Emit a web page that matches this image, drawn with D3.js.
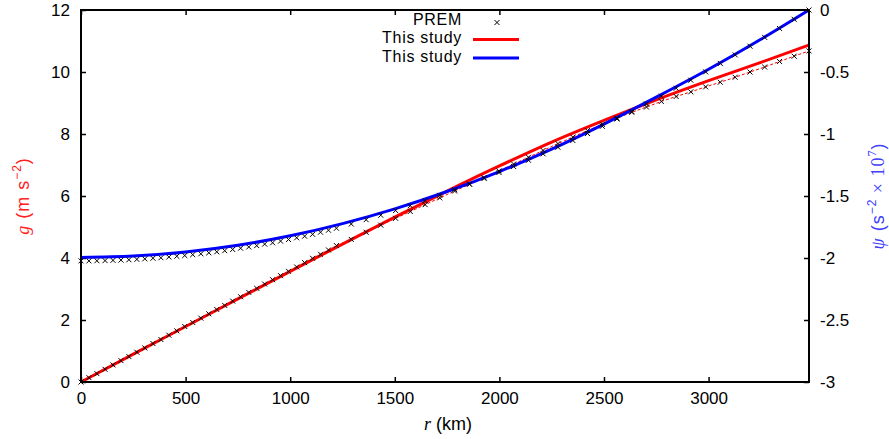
<!DOCTYPE html>
<html>
<head>
<meta charset="utf-8">
<script src="https://cdn.jsdelivr.net/npm/d3@7"></script>
<style>
body { margin: 0; background: #fff; }
svg { font-family: "Liberation Sans", Arial, Helvetica, sans-serif; }
.tick text { font-size: 17px; fill: #000; }
.tick line { stroke: #000; stroke-width: 1.5; }
.serif { font-family: "Liberation Serif", "DejaVu Serif", serif; }
</style>
</head>
<body>
<svg id="chart"></svg>
<script>
// r (km) for the curves of this study
var radiusKm = [0, 250, 500, 750, 1000, 1250, 1500, 1750, 2000, 2250, 2500, 2750, 3000, 3250, 3480];
// g (m s^-2), this study
var gStudy = [0, 0.90, 1.79, 2.68, 3.57, 4.45, 5.32, 6.16, 6.97, 7.74, 8.44, 9.10, 9.72, 10.31, 10.87];
// psi (s^-2 x 10^7), this study
var psiStudy = [-1.995, -1.984, -1.951, -1.897, -1.821, -1.723, -1.604, -1.464, -1.303, -1.122, -0.920, -0.703, -0.478, -0.236, 0];

// PREM samples
var premRadius = [0, 38, 76, 115, 153, 191, 229, 267, 305, 344, 382, 420, 458, 496, 534, 573, 611, 649, 687, 725,
  763, 802, 840, 878, 916, 954, 992, 1031, 1069, 1107, 1145, 1183, 1221,
  1292, 1363, 1433, 1504, 1574, 1645, 1715, 1786, 1857, 1927, 1998, 2068, 2139, 2209, 2280, 2351, 2421, 2492,
  2562, 2633, 2703, 2774, 2845, 2915, 2986, 3056, 3127, 3198, 3268, 3339, 3409, 3480];
var premG = [0, 0.14, 0.27, 0.41, 0.55, 0.69, 0.82, 0.96, 1.10, 1.24, 1.37, 1.51, 1.65, 1.79, 1.92, 2.06, 2.20, 2.34, 2.47, 2.61,
  2.75, 2.89, 3.02, 3.16, 3.30, 3.43, 3.57, 3.71, 3.85, 3.99, 4.12, 4.26, 4.40,
  4.60, 4.83, 5.06, 5.28, 5.50, 5.72, 5.94, 6.16, 6.38, 6.59, 6.81, 7.03, 7.25, 7.47, 7.69, 7.90, 8.11, 8.31,
  8.51, 8.70, 8.87, 9.05, 9.21, 9.36, 9.52, 9.67, 9.83, 10.00, 10.16, 10.34, 10.51, 10.68];
var premPsi = [-2.023, -2.023, -2.022, -2.021, -2.019, -2.017, -2.014, -2.011, -2.007, -2.002, -1.998, -1.992, -1.986, -1.980, -1.973, -1.966, -1.958, -1.950, -1.941, -1.931,
  -1.921, -1.911, -1.900, -1.888, -1.877, -1.864, -1.851, -1.837, -1.824, -1.809, -1.792, -1.776, -1.760,
  -1.726, -1.691, -1.655, -1.617, -1.578, -1.537, -1.494, -1.449, -1.404, -1.358, -1.310, -1.262, -1.212, -1.160, -1.107, -1.052, -0.996, -0.938,
  -0.879, -0.819, -0.757, -0.695, -0.631, -0.566, -0.499, -0.431, -0.362, -0.292, -0.221, -0.149, -0.075, 0];

var xTicks = [0, 500, 1000, 1500, 2000, 2500, 3000];
var gTicks = [0, 2, 4, 6, 8, 10, 12];
var psiTicks = [-3, -2.5, -2, -1.5, -1, -0.5, 0];

var screen = {width: 889, height: 439};
var margins = {left: 81, right: 80, top: 10, bottom: 57};
var graph = {
  width: screen.width - margins.left - margins.right,
  height: screen.height - margins.top - margins.bottom
};

var svg = d3.select("#chart")
  .attr("width", screen.width)
  .attr("height", screen.height);

var target = svg.append("g")
  .attr("transform", "translate(" + margins.left + "," + margins.top + ")");

var xScale = d3.scaleLinear().domain([0, 3480]).range([0, graph.width]);
var gScale = d3.scaleLinear().domain([0, 12]).range([graph.height, 0]);
var psiScale = d3.scaleLinear().domain([-3, 0]).range([graph.height, 0]);

// axes, gnuplot style ticks pointing inwards
var fmt = function(d) { return String(d); };
target.append("g")
  .attr("transform", "translate(0," + graph.height + ")")
  .call(d3.axisBottom(xScale).tickValues(xTicks).tickFormat(fmt).tickSizeInner(-5).tickSizeOuter(0).tickPadding(10));
target.append("g")
  .call(d3.axisTop(xScale).tickValues(xTicks).tickFormat("").tickSizeInner(-5).tickSizeOuter(0));
target.append("g")
  .call(d3.axisLeft(gScale).tickValues(gTicks).tickFormat(fmt).tickSizeInner(-5).tickSizeOuter(0).tickPadding(11));
target.append("g")
  .attr("transform", "translate(" + graph.width + ",0)")
  .call(d3.axisRight(psiScale).tickValues(psiTicks).tickFormat(fmt).tickSizeInner(-5).tickSizeOuter(0).tickPadding(11));
target.selectAll(".domain").remove();

// PREM g dashed guide
var premGPts = premRadius.map(function(r, i) { return [r, premG[i]]; });
var premPsiPts = premRadius.map(function(r, i) { return [r, premPsi[i]]; });

target.append("path")
  .datum(premGPts)
  .attr("fill", "none")
  .attr("stroke", "#ff0000")
  .attr("stroke-width", 1)
  .attr("stroke-dasharray", "3,2")
  .attr("d", d3.line().x(function(d) { return xScale(d[0]); }).y(function(d) { return gScale(d[1]); }));

// study curves
var gPts = radiusKm.map(function(r, i) { return [r, gStudy[i]]; });
var psiPts = radiusKm.map(function(r, i) { return [r, psiStudy[i]]; });

target.append("path")
  .datum(gPts)
  .attr("fill", "none")
  .attr("stroke", "#ff0000")
  .attr("stroke-width", 3)
  .attr("d", d3.line().curve(d3.curveMonotoneX)
    .x(function(d) { return xScale(d[0]); }).y(function(d) { return gScale(d[1]); }));

target.append("path")
  .datum(psiPts)
  .attr("fill", "none")
  .attr("stroke", "#0000ff")
  .attr("stroke-width", 3)
  .attr("d", d3.line().curve(d3.curveMonotoneX)
    .x(function(d) { return xScale(d[0]); }).y(function(d) { return psiScale(d[1]); }));

// PREM crosses
var crossPath = "M-2.5,-2.5L2.5,2.5M-2.5,2.5L2.5,-2.5";
var drawCrosses = function(pts, yScale) {
  target.append("g").selectAll("path")
    .data(pts)
    .enter()
    .append("path")
    .attr("d", crossPath)
    .attr("stroke", "#000")
    .attr("stroke-width", 1)
    .attr("transform", function(d) { return "translate(" + xScale(d[0]) + "," + yScale(d[1]) + ")"; });
};
drawCrosses(premGPts, gScale);
drawCrosses(premPsiPts, psiScale);

// frame
target.append("rect")
  .attr("width", graph.width)
  .attr("height", graph.height)
  .attr("fill", "none")
  .attr("stroke", "#000")
  .attr("stroke-width", 2);

// legend
var legend = svg.append("g").attr("font-size", 16).attr("letter-spacing", 0.7);
var entries = [
  {name: "PREM", y: 19},
  {name: "This study", y: 37.5, color: "#ff0000"},
  {name: "This study", y: 56, color: "#0000ff"}
];
entries.forEach(function(e) {
  legend.append("text")
    .attr("x", 462).attr("y", e.y)
    .attr("text-anchor", "end")
    .attr("dominant-baseline", "central")
    .text(e.name);
  if (e.color) {
    legend.append("line")
      .attr("x1", 473).attr("x2", 519)
      .attr("y1", e.y + 2).attr("y2", e.y + 2)
      .attr("stroke", e.color).attr("stroke-width", 3);
  } else {
    legend.append("path")
      .attr("d", crossPath)
      .attr("stroke", "#000")
      .attr("transform", "translate(497," + (e.y + 3.5) + ")");
  }
});

// axis labels
var xLabel = svg.append("text")
  .attr("x", margins.left + graph.width / 2 + 3)
  .attr("y", 430)
  .attr("text-anchor", "middle")
  .attr("font-size", 18);
xLabel.append("tspan").attr("class", "serif").attr("font-style", "italic").text("r");
xLabel.append("tspan").text(" (km)");

var gLabel = svg.append("text")
  .attr("transform", "translate(29,196) rotate(-90)")
  .attr("text-anchor", "middle")
  .attr("font-size", 18)
  .attr("letter-spacing", 1)
  .attr("fill", "#ff2020");
gLabel.append("tspan").attr("class", "serif").attr("font-style", "italic").text("g");
gLabel.append("tspan").text(" (m s");
gLabel.append("tspan").attr("font-size", 12).attr("dy", -8).text("\u22122");
gLabel.append("tspan").attr("dy", 8).text(")");

var psiLabel = svg.append("text")
  .attr("transform", "translate(884,196) rotate(-90)")
  .attr("text-anchor", "middle")
  .attr("font-size", 18)
  .attr("letter-spacing", 1)
  .attr("fill", "#4040ff");
psiLabel.append("tspan").attr("class", "serif").attr("font-style", "italic").text("\u03c8");
psiLabel.append("tspan").text(" (s");
psiLabel.append("tspan").attr("font-size", 12).attr("dy", -8).text("\u22122");
psiLabel.append("tspan").attr("class", "serif").attr("dy", 8).text(" \u00d7 10");
psiLabel.append("tspan").attr("class", "serif").attr("font-size", 12).attr("dy", -8).text("7");
psiLabel.append("tspan").attr("dy", 8).text(")");
</script>
</body>
</html>
